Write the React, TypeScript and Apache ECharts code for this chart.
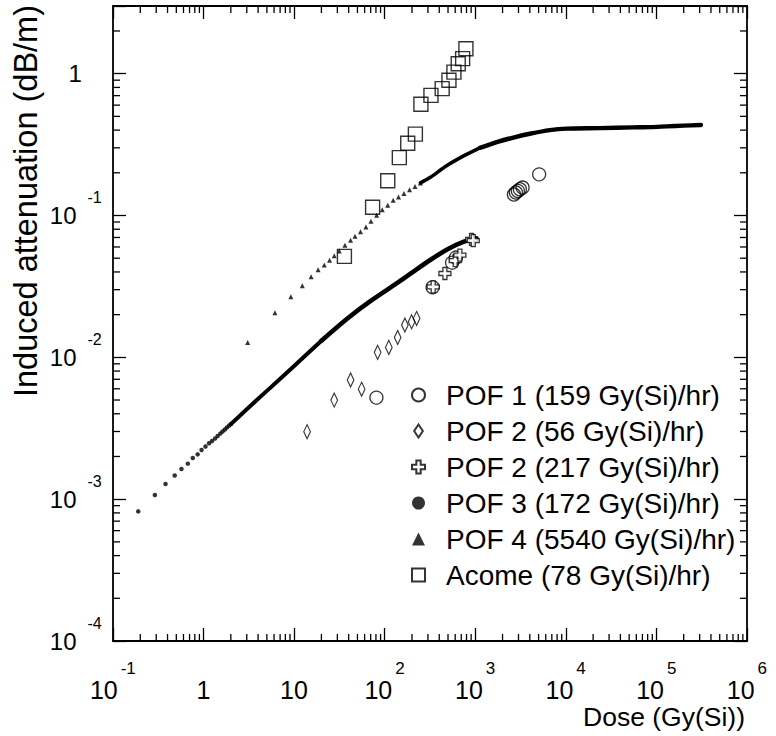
import React, { useEffect, useRef } from 'react';
import * as echarts from 'echarts';

// ---- axis limits ----
const X_MIN = 0.1;
const X_MAX = 1e6;
const Y_MIN = 1e-4;
const Y_MAX = 3;

// ---- data (dose in Gy(Si), induced attenuation in dB/m) ----
const pof1Dose = [81, 338, 555, 610, 2670, 2806, 2953, 3107, 3327, 5070];
const pof1Att = [0.0052, 0.0312, 0.0465, 0.0505, 0.1406, 0.1452, 0.149, 0.1532, 0.1574, 0.195];

const pof2aDose = [13.9, 27.7, 42, 55.6, 83.5, 111, 139, 167, 198, 225];
const pof2aAtt = [0.00299, 0.005, 0.00692, 0.00596, 0.01084, 0.01175, 0.0138, 0.0169, 0.0178, 0.0188];

const pof2bDose = [343, 462, 600, 676, 910, 950];
const pof2bAtt = [0.0314, 0.039, 0.048, 0.0525, 0.0678, 0.0665];

const pof3Dose = [0.19, 0.29, 0.38, 0.48, 0.57, 0.67, 0.76, 0.86, 0.95, 1.05, 1.15, 1.24, 1.34, 1.43, 1.53, 1.62, 1.72, 1.81, 1.91, 2.0];
const pof3Att = [8.2e-4, 1.07e-3, 1.28e-3, 1.47e-3, 1.63e-3, 1.78e-3, 1.95e-3, 2.07e-3, 2.22e-3, 2.35e-3, 2.48e-3, 2.57e-3, 2.68e-3, 2.79e-3, 2.9e-3, 3.0e-3, 3.1e-3, 3.2e-3, 3.29e-3, 3.38e-3];
// dense (continuous-looking) part of POF 3, low-dose and high-dose stretches
const pof3LowDose = [2.0, 3, 5, 10, 20];
const pof3LowAtt = [3.38e-3, 4.3e-3, 5.8e-3, 8.7e-3, 0.0131];
const pof3HighDose = [20, 40, 70, 135, 200, 315, 500, 735, 1030];
const pof3HighAtt = [0.0131, 0.0191, 0.025, 0.0332, 0.0396, 0.0484, 0.058, 0.0652, 0.0689];

const pof4Dose = [3.07, 6.14, 9.2, 12.3, 15.4, 18.4, 21.5, 24.6, 27.7, 31.5, 36.4, 42, 47, 54, 62, 70.5, 81.4, 94, 108, 124, 142, 163, 188, 216, 248];
const pof4Att = [0.0127, 0.0206, 0.0267, 0.032, 0.037, 0.0415, 0.0447, 0.0484, 0.052, 0.0563, 0.0618, 0.067, 0.0715, 0.0767, 0.083, 0.091, 0.1005, 0.11, 0.118, 0.128, 0.1352, 0.143, 0.1516, 0.16, 0.1696];
// dense part of POF 4
const pof4MidDose = [248, 316, 482, 735, 1125];
const pof4MidAtt = [0.1696, 0.185, 0.224, 0.262, 0.3];
const pof4HighDose = [1125, 1800, 2700, 4000, 6650, 10200, 23700, 55000, 85000, 130000, 200000, 310000];
const pof4HighAtt = [0.3, 0.332, 0.356, 0.377, 0.4, 0.41, 0.413, 0.418, 0.42, 0.425, 0.43, 0.435];

const acomeDose = [35.9, 73.5, 108, 145, 179.5, 218, 251, 324, 431, 512, 581, 648, 725, 788];
const acomeAtt = [0.0515, 0.1144, 0.176, 0.256, 0.323, 0.375, 0.608, 0.703, 0.784, 0.898, 1.026, 1.175, 1.276, 1.5];

const names = [
  'POF 1 (159 Gy(Si)/hr)',
  'POF 2 (56 Gy(Si)/hr)',
  'POF 2 (217 Gy(Si)/hr)',
  'POF 3 (172 Gy(Si)/hr)',
  'POF 4 (5540 Gy(Si)/hr)',
  'Acome (78 Gy(Si)/hr)',
];

const FONT = 'Liberation Sans';
const DIAMOND = 'path://M4,0L8,6L4,12L0,6Z';
const CROSS = 'path://M4,0H8V4H12V8H8V12H4V8H0V4H4Z';

const zip = (a: number[], b: number[]) => a.map((v, i) => [v, b[i]]);

const xMinor: number[] = [];
for (let e = -1; e < 6; e++) for (let m = 2; m <= 9; m++) xMinor.push(m * Math.pow(10, e));
const yMinor: number[] = [];
for (let e = -4; e < 0; e++) for (let m = 2; m <= 9; m++) yMinor.push(m * Math.pow(10, e));
yMinor.push(2);

const isPow = (v: number) => {
  const l = Math.log10(v);
  return Math.abs(l - Math.round(l)) < 1e-6;
};

const tickStyle = { color: '#000', width: 1.3 };
const lineStyleAxis = { color: '#000', width: 1.8 };

const xLabelFmt = (v: number) => {
  if (!isPow(v)) return '';
  const e = Math.round(Math.log10(v));
  if (e === 0) return '{n|1}{h| }';
  if (e === 1) return '{n|10}{h| }';
  return `{b|10}{g| }{s|${e}}{h| }`;
};
const yLabelFmt = (v: number) => {
  if (!isPow(v)) return '';
  const e = Math.round(Math.log10(v));
  if (e === 0) return '{n|1}{gw| }{h| }';
  return `{b|10}{g| }{s|${e}}{h| }`;
};

const denseLine = (name: string, d: number[], a: number[], width: number) => ({
  name, type: 'line', data: zip(d, a), showSymbol: false, symbol: 'none',
  smooth: 0.3, lineStyle: { color: '#000', width, cap: 'round' }, silent: true, z: 2,
});

const option: any = {
  animation: false,
  backgroundColor: '#fff',
  textStyle: { fontFamily: FONT, color: '#000' },
  grid: { left: 113, right: 29, top: 6, bottom: 95, containLabel: false, outerBoundsMode: 'none' },
  xAxis: [
    {
      type: 'log', logBase: 10, min: X_MIN, max: X_MAX, position: 'bottom',
      axisLine: { show: true, lineStyle: lineStyleAxis },
      axisTick: { show: true, inside: true, length: 13, lineStyle: tickStyle },
      splitLine: { show: false },
      axisLabel: {
        show: true, margin: 19, formatter: xLabelFmt, color: '#000', fontFamily: FONT, fontSize: 25,
        rich: {
          n: { fontSize: 25, lineHeight: 26, verticalAlign: 'bottom', fontFamily: FONT, color: '#000' },
          b: { fontSize: 25, lineHeight: 26, verticalAlign: 'bottom', fontFamily: FONT, color: '#000' },
          g: { fontSize: 1, lineHeight: 2, width: 3, verticalAlign: 'bottom' },
          s: { fontSize: 17, lineHeight: 18, verticalAlign: 'top', fontFamily: FONT, color: '#000' },
          h: { fontSize: 1, lineHeight: 42, verticalAlign: 'top' },
        },
      },
    },
    {
      type: 'log', logBase: 10, min: X_MIN, max: X_MAX, position: 'top',
      axisLine: { show: true, lineStyle: lineStyleAxis },
      axisTick: { show: true, inside: true, length: 13, lineStyle: tickStyle },
      splitLine: { show: false },
      axisLabel: { show: false },
    },
  ],
  yAxis: [
    {
      type: 'log', logBase: 10, min: Y_MIN, max: Y_MAX, position: 'left',
      axisLine: { show: true, lineStyle: lineStyleAxis },
      axisTick: { show: true, inside: true, length: 13, lineStyle: tickStyle },
      splitLine: { show: false },
      axisLabel: {
        show: true, margin: 11, formatter: yLabelFmt, color: '#000', fontFamily: FONT, fontSize: 24,
        rich: {
          n: { fontSize: 24, lineHeight: 26, verticalAlign: 'middle', fontFamily: FONT, color: '#000' },
          b: { fontSize: 24, lineHeight: 26, verticalAlign: 'middle', fontFamily: FONT, color: '#000' },
          g: { fontSize: 1, lineHeight: 2, width: 11, verticalAlign: 'middle' },
          gw: { fontSize: 1, lineHeight: 2, width: 20, verticalAlign: 'middle' },
          s: { fontSize: 16, lineHeight: 18, verticalAlign: 'top', fontFamily: FONT, color: '#000' },
          h: { fontSize: 1, lineHeight: 52, verticalAlign: 'top' },
        },
      },
    },
    {
      type: 'log', logBase: 10, min: Y_MIN, max: Y_MAX, position: 'right',
      axisLine: { show: true, lineStyle: lineStyleAxis },
      axisTick: { show: true, inside: true, length: 13, lineStyle: tickStyle },
      splitLine: { show: false },
      axisLabel: { show: false },
    },
  ],
  legend: {
    orient: 'vertical',
    left: 411,
    top: 381,
    itemWidth: 13,
    itemHeight: 13,
    itemGap: 8,
    padding: 0,
    selectedMode: false,
    textStyle: { fontFamily: FONT, fontSize: 28, lineHeight: 28, color: '#000', padding: [0, 0, 0, 16] },
    data: [
      { name: names[0], icon: 'circle' },
      { name: names[1], icon: DIAMOND },
      { name: names[2], icon: CROSS },
      { name: names[3], icon: 'circle' },
      { name: names[4], icon: 'triangle' },
      { name: names[5], icon: 'rect' },
    ],
  },
  graphic: [
    {
      type: 'text', x: 26, y: 201, rotation: Math.PI / 2,
      style: { text: 'Induced attenuation (dB/m)', fontFamily: FONT, fontSize: 32.5, fill: '#000', textAlign: 'center', textVerticalAlign: 'middle' },
    },
    {
      type: 'text', x: 745, y: 717,
      style: { text: 'Dose (Gy(Si))', fontFamily: FONT, fontSize: 26.5, fill: '#000', textAlign: 'right', textVerticalAlign: 'middle' },
    },
  ],
  series: [
    {
      name: 'minorX', type: 'custom', silent: true, z: 10, clip: false,
      data: xMinor.map((v) => [v, Y_MIN]),
      renderItem: (_p: any, api: any) => {
        const v = api.value(0);
        const b = api.coord([v, Y_MIN]);
        const t = api.coord([v, Y_MAX]);
        return {
          type: 'group',
          children: [
            { type: 'line', shape: { x1: b[0], y1: b[1], x2: b[0], y2: b[1] - 7 }, style: { stroke: '#000', lineWidth: 1.3 } },
            { type: 'line', shape: { x1: t[0], y1: t[1], x2: t[0], y2: t[1] + 7 }, style: { stroke: '#000', lineWidth: 1.3 } },
          ],
        };
      },
    },
    {
      name: 'minorY', type: 'custom', silent: true, z: 10, clip: false,
      data: yMinor.map((v) => [X_MIN, v]),
      renderItem: (_p: any, api: any) => {
        const v = api.value(1);
        const l = api.coord([X_MIN, v]);
        const r = api.coord([X_MAX, v]);
        return {
          type: 'group',
          children: [
            { type: 'line', shape: { x1: l[0], y1: l[1], x2: l[0] + 7, y2: l[1] }, style: { stroke: '#000', lineWidth: 1.3 } },
            { type: 'line', shape: { x1: r[0], y1: r[1], x2: r[0] - 7, y2: r[1] }, style: { stroke: '#000', lineWidth: 1.3 } },
          ],
        };
      },
    },
    denseLine('pof3low', pof3LowDose, pof3LowAtt, 4),
    denseLine('pof3high', pof3HighDose, pof3HighAtt, 4.6),
    denseLine('pof4mid', pof4MidDose, pof4MidAtt, 3.6),
    denseLine('pof4high', pof4HighDose, pof4HighAtt, 4.4),
    {
      name: names[3], type: 'scatter', data: zip(pof3Dose, pof3Att), symbol: 'circle', symbolSize: 4.5,
      itemStyle: { color: '#000' }, z: 3,
    },
    {
      name: names[4], type: 'scatter', data: zip(pof4Dose, pof4Att), symbol: 'triangle', symbolSize: 5,
      itemStyle: { color: '#000' }, z: 3,
    },
    {
      name: names[0], type: 'scatter', data: zip(pof1Dose, pof1Att), symbol: 'circle', symbolSize: 13,
      itemStyle: { color: 'transparent', borderColor: '#000', borderWidth: 1.3 }, z: 4,
    },
    {
      name: names[1], type: 'scatter', data: zip(pof2aDose, pof2aAtt), symbol: DIAMOND, symbolSize: [10, 14],
      symbolKeepAspect: true,
      itemStyle: { color: 'transparent', borderColor: '#000', borderWidth: 1.2 }, z: 4,
    },
    {
      name: names[2], type: 'scatter', data: zip(pof2bDose, pof2bAtt), symbol: CROSS, symbolSize: 12,
      itemStyle: { color: '#fff', borderColor: '#000', borderWidth: 1.3 }, z: 5,
    },
    {
      name: names[5], type: 'scatter', data: zip(acomeDose, acomeAtt), symbol: 'rect', symbolSize: 14,
      itemStyle: { color: 'transparent', borderColor: '#000', borderWidth: 1.4 }, z: 4,
    },
  ],
};

export default function App() {
  const ref = useRef<HTMLDivElement>(null);
  useEffect(() => {
    if (!ref.current) return;
    const chart = echarts.init(ref.current, undefined, { renderer: 'svg' });
    chart.setOption(option);
    return () => chart.dispose();
  }, []);
  return (
    <div
      ref={ref}
      style={{ position: 'fixed', left: 0, top: 0, width: 776, height: 736, background: '#fff' }}
    />
  );
}
